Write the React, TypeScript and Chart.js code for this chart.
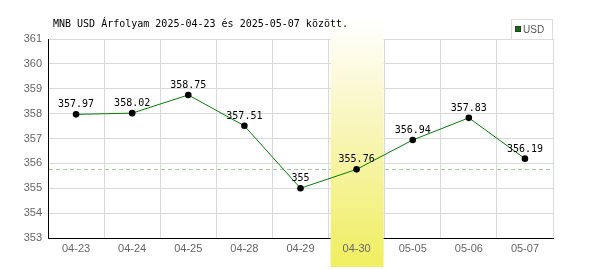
import React, { useEffect, useRef } from "react";
import { Chart, registerables } from "chart.js";

Chart.register(...registerables);

const categories = ["04-23", "04-24", "04-25", "04-28", "04-29", "04-30", "05-05", "05-06", "05-07"];
const usdValues = [357.97, 358.02, 358.75, 357.51, 355, 355.76, 356.94, 357.83, 356.19];
const yTicks = [353, 354, 355, 356, 357, 358, 359, 360, 361];
const highlightIndex = 5;
const referenceValue = 355.76;
const titleText = "MNB USD Árfolyam 2025-04-23 és 2025-05-07 között.";
const seriesName = "USD";

const MONO = '10px "DejaVu Sans Mono", monospace';
const SANS = '11px "Liberation Sans", Arial, sans-serif';

export default function App() {
  const ref = useRef<HTMLCanvasElement | null>(null);

  useEffect(() => {
    const canvas = ref.current;
    if (!canvas) return;

    const decor = {
      id: "decor",
      beforeDatasetsDraw(chart: any) {
        const ctx = chart.ctx;
        const area = chart.chartArea;
        const x = chart.scales.x;
        const y = chart.scales.y;
        // dashed reference line
        ctx.save();
        ctx.strokeStyle = "#9fcf9f";
        ctx.lineWidth = 1;
        ctx.setLineDash([4, 3]);
        const ry = Math.round(y.getPixelForValue(referenceValue)) + 0.5;
        ctx.beginPath();
        ctx.moveTo(area.left + 1, ry);
        ctx.lineTo(area.right, ry);
        ctx.stroke();
        ctx.restore();
        // highlight band
        const cx = x.getPixelForValue(highlightIndex);
        const half = (x.getPixelForValue(1) - x.getPixelForValue(0)) / 2;
        const left = cx - half + 2;
        const right = cx + half - 1;
        const top = 20;
        const bottom = 267;
        ctx.save();
        const g = ctx.createLinearGradient(0, top, 0, bottom);
        g.addColorStop(0, "rgba(255,255,255,1)");
        g.addColorStop(0.35, "#faf7c8");
        g.addColorStop(1, "#f0ee60");
        ctx.fillStyle = g;
        ctx.fillRect(left, top, right - left, bottom - top);
        ctx.restore();
      },
      afterDatasetsDraw(chart: any) {
        const ctx = chart.ctx;
        const x = chart.scales.x;
        const y = chart.scales.y;
        const area = chart.chartArea;
        ctx.save();
        // x labels
        ctx.font = SANS;
        ctx.fillStyle = "#666666";
        ctx.textAlign = "center";
        ctx.textBaseline = "top";
        categories.forEach((c, i) => {
          ctx.fillText(c, x.getPixelForValue(i), area.bottom + 5);
        });
        // data labels
        ctx.font = MONO;
        ctx.fillStyle = "#000000";
        ctx.textBaseline = "alphabetic";
        const meta = chart.getDatasetMeta(0);
        meta.data.forEach((pt: any, i: number) => {
          ctx.fillText(String(usdValues[i]), pt.x, pt.y - 7);
        });
        // title
        ctx.textAlign = "left";
        ctx.fillText(titleText, 53, 27);
        // legend
        ctx.fillStyle = "#ffffff";
        ctx.fillRect(511.5, 19.5, 41, 20);
        ctx.strokeStyle = "#dddddd";
        ctx.lineWidth = 1;
        ctx.strokeRect(511.5, 19.5, 41, 20);
        ctx.fillStyle = "#007a00";
        ctx.fillRect(515, 26, 6, 6);
        ctx.strokeStyle = "#333333";
        ctx.strokeRect(515.5, 26.5, 5, 5);
        ctx.fillStyle = "#555555";
        ctx.font = '10px "Liberation Sans", Arial, sans-serif';
        ctx.textBaseline = "middle";
        ctx.fillText(seriesName, 523, 30);
        ctx.restore();
      },
    };

    const chart = new Chart(canvas, {
      type: "line",
      data: {
        labels: categories,
        datasets: [
          {
            label: seriesName,
            data: usdValues,
            borderColor: "#008000",
            borderWidth: 1,
            pointBackgroundColor: "#000000",
            pointBorderColor: "#000000",
            pointRadius: 3.3,
            pointBorderWidth: 0,
            tension: 0,
            fill: false,
          },
        ],
      },
      options: {
        animation: false,
        responsive: false,
        maintainAspectRatio: false,
        devicePixelRatio: 1,
        layout: { padding: { top: 39, right: 47, left: 0, bottom: 0 } },
        plugins: {
          legend: { display: false },
          title: { display: false },
          tooltip: { enabled: false },
        },
        scales: {
          x: {
            type: "category",
            offset: true,
            grid: { offset: true, color: "#d9d9d9", drawTicks: false, lineWidth: 1 },
            border: { display: true, color: "#000000", width: 1 },
            ticks: { color: "rgba(0,0,0,0)", font: { size: 11 }, padding: 5 },
            afterFit: (s: any) => {
              s.height = 32;
            },
          },
          y: {
            type: "linear",
            min: yTicks[0],
            max: yTicks[yTicks.length - 1],
            afterBuildTicks: (s: any) => {
              s.ticks = yTicks.map((v) => ({ value: v }));
            },
            grid: { color: "#d9d9d9", drawTicks: false, lineWidth: 1 },
            border: { display: true, color: "#000000", width: 1 },
            ticks: {
              color: "#666666",
              padding: 6,
              font: { family: '"Liberation Sans", Arial, sans-serif', size: 11 },
              callback: (v: any) => String(v),
            },
            afterFit: (s: any) => {
              s.width = 48;
            },
          },
        },
      },
      plugins: [decor],
    });
    return () => chart.destroy();
  }, []);

  return (
    <div style={{ position: "fixed", left: 0, top: 0, width: 600, height: 270, background: "#ffffff" }}>
      <canvas ref={ref} width={600} height={270} style={{ display: "block", width: 600, height: 270 }} />
    </div>
  );
}
